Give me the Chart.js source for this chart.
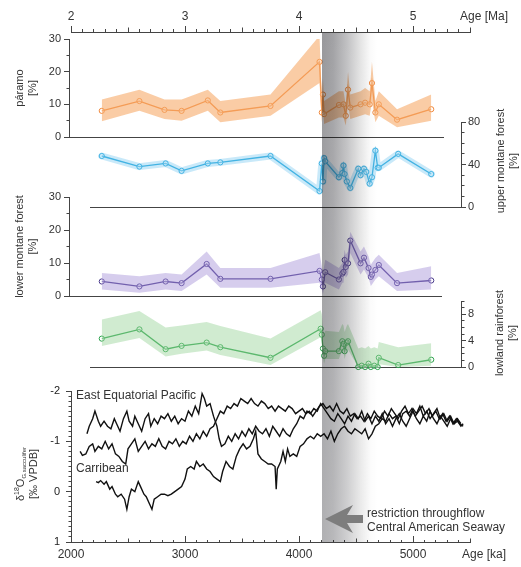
<!DOCTYPE html>
<html><head><meta charset="utf-8">
<script src="https://cdn.jsdelivr.net/npm/chart.js@4.4.1/dist/chart.umd.min.js"></script>
<style>
html,body{margin:0;padding:0;background:#fff;}
#wrap{position:relative;width:521px;height:567px;overflow:hidden;font-family:"Liberation Sans",Arial,sans-serif;color:#333;}
#wrap canvas{position:absolute;left:0;top:0;}
#cT{mix-blend-mode:multiply;}
.lbl{position:absolute;white-space:nowrap;font-size:12px;line-height:14px;color:#333;}
.rot{position:absolute;transform:translate(-50%,-50%) rotate(-90deg);text-align:center;white-space:nowrap;font-size:11px;line-height:13px;color:#333;}
.rot sup{font-size:7px;vertical-align:5px;line-height:0;}
.rot sub{font-size:6px;vertical-align:-2px;line-height:0;}
svg{position:absolute;left:0;top:0;}
</style></head>
<body><div id="wrap">
<canvas id="cLR" width="521" height="567"></canvas>
<canvas id="cLM" width="521" height="567"></canvas>
<canvas id="cUM" width="521" height="567"></canvas>
<canvas id="cP" width="521" height="567"></canvas>
<canvas id="cD" width="521" height="567"></canvas>
<canvas id="cT" width="521" height="567"></canvas>
<svg width="521" height="567"><polygon points="325,519 353,505 347,515 363,515 363,523 347,523 353,533" fill="#7d7d7d"/></svg>
<div class="lbl" style="left:460px;top:9px">Age [Ma]</div>
<div class="lbl" style="left:462px;top:547px">Age [ka]</div>
<div class="lbl" style="left:76px;top:388px">East Equatorial Pacific</div>
<div class="lbl" style="left:76px;top:461px">Carribean</div>
<div class="lbl" style="left:367px;top:506px">restriction throughflow<br>Central American Seaway</div>
<div class="rot" style="left:507px;top:161px">upper montane forest<br>[%]</div>
<div class="rot" style="left:506px;top:333px">lowland rainforest<br>[%]</div>
<div class="rot" style="left:27px;top:474px">δ<sup>18</sup>O<sub>G.sacculifer</sub><br>[‰ VPDB]</div>
</div>
<script>
// ---------------- DATA ----------------
// páramo [%] vs age [Ma]
const paramoAge = [2.27, 2.60, 2.82, 2.97, 3.20, 3.31, 3.75, 4.18, 4.20, 4.21, 4.22, 4.35, 4.39, 4.41, 4.43, 4.45, 4.54, 4.58, 4.62, 4.64, 4.67, 4.70, 4.86, 5.16];
const paramo    = [8.0, 11.0, 8.3, 8.0, 11.2, 7.5, 9.5, 23.0, 7.5, 13.0, 7.0, 9.8, 10.0, 6.5, 14.5, 9.0, 10.0, 10.5, 10.0, 16.5, 7.5, 10.0, 5.3, 8.5];
const paramoHi  = [11.5, 14.5, 11.5, 11.5, 14.5, 11, 13, 31, 12, 18, 11, 14, 14, 10, 20, 13, 14, 15, 14, 23, 11, 14, 8.5, 13];
const paramoLo  = [4.8, 8, 5.5, 5, 8, 4.5, 6.5, 16.5, 4.5, 9, 4, 6, 6, 3.5, 10, 5.5, 6.5, 7, 6.5, 11, 4.5, 6.5, 3, 5];

// upper montane forest [%]
const upperAge = [2.27, 2.60, 2.83, 2.97, 3.20, 3.31, 3.75, 4.18, 4.20, 4.21, 4.22, 4.23, 4.35, 4.38, 4.39, 4.40, 4.42, 4.45, 4.52, 4.54, 4.57, 4.59, 4.62, 4.64, 4.67, 4.69, 4.70, 4.87, 5.16];
const upper    = [48, 38, 41, 34, 41, 42, 48, 15, 41, 24, 46, 43, 28, 32, 39, 31, 24, 18, 36, 30, 36, 33, 22, 28, 53, 37, 37, 50, 31];

// lower montane forest [%]
const lowerAge = [2.27, 2.60, 2.83, 2.97, 3.19, 3.31, 3.75, 4.18, 4.20, 4.21, 4.23, 4.35, 4.38, 4.39, 4.40, 4.41, 4.43, 4.45, 4.54, 4.57, 4.61, 4.63, 4.64, 4.67, 4.70, 4.86, 5.16];
const lower    = [4.4, 2.9, 4.4, 3.9, 9.7, 5.2, 5.2, 7.6, 5.0, 2.9, 7.2, 5.0, 6.8, 7.3, 10.9, 8.8, 9.9, 16.8, 9.9, 11.6, 8.5, 5.8, 6.5, 7.9, 9.4, 3.9, 4.7];
const lowerHi  = [7, 6, 7, 6.5, 13.5, 8.5, 8.5, 13, 9, 7, 11, 8.5, 10, 11, 14, 12.5, 13.5, 19.5, 13.5, 15, 12, 9.5, 10, 11.5, 12.5, 7, 9];
const lowerLo  = [2, 1, 2, 1.5, 6.5, 2.5, 2.5, 4, 2, 0.5, 4, 2, 4, 4, 7.5, 5.5, 6.5, 13, 6.5, 8, 5.5, 3, 3.5, 5, 6, 1.5, 2];

// lowland rainforest [%]
const lowlandAge = [2.27, 2.60, 2.83, 2.97, 3.19, 3.31, 3.75, 4.19, 4.20, 4.21, 4.22, 4.23, 4.35, 4.38, 4.39, 4.40, 4.42, 4.43, 4.52, 4.55, 4.58, 4.61, 4.63, 4.66, 4.69, 4.70, 4.87, 5.16];
const lowland    = [4.3, 5.7, 2.7, 3.2, 3.7, 3.0, 1.4, 5.8, 4.9, 2.8, 1.7, 2.4, 2.4, 3.9, 3.5, 2.4, 3.7, 3.9, 0, 0.2, 0, 0.5, 0, 0.2, 0, 1.4, 0.3, 1.1];
const lowlandHi  = [7.2, 8.5, 6, 6.3, 6.8, 6.2, 4.3, 8.6, 8, 6, 5, 5.5, 5.3, 6.5, 6.3, 5.3, 6.3, 6.5, 2.8, 3, 2.8, 3.2, 2.8, 3, 2.8, 3.8, 3, 3.6];
const lowlandLo  = [3.2, 4.4, 1.6, 2, 2.5, 1.8, 0.3, 4.5, 3.5, 1.5, 0.5, 1.2, 1.2, 2.6, 2.2, 1.2, 2.5, 2.6, 0, 0, 0, 0, 0, 0, 0, 0.4, 0, 0.2];

// δ18O G. sacculifer [‰ VPDB] vs age [ka]
const eepAAge = [2140,2160,2190,2210,2240,2260,2290,2320,2350,2380,2400,2430,2460,2490,2510,2540,2560,2590,2620,2650,2680,2700,2730,2760,2790,2820,2850,2880,2910,2940,2970,3000,3030,3060,3090,3120,3150,3170,3190,3220,3250,3280,3300,3320,3350,3380,3410,3440,3470,3500,3530,3560,3590,3620,3650,3680,3710,3740,3770,3800,3830,3860,3890,3920,3950,3980,4010,4040,4070,4100,4130,4160,4190,4220,4250,4280,4310,4340,4370,4400,4430,4460,4490,4520,4550,4580,4610,4640,4670,4700,4730,4760,4790,4820,4850,4880,4910,4940,4970,5000,5030,5060,5090,5120,5150,5180,5210,5240,5270,5300,5330,5360,5390,5420,5440];
const eepA    = [-1.15,-1.3,-1.45,-1.6,-1.4,-1.3,-1.4,-1.3,-1.25,-1.45,-1.35,-1.2,-1.45,-1.6,-1.4,-1.3,-1.5,-1.35,-1.2,-1.45,-1.55,-1.3,-1.45,-1.35,-1.5,-1.45,-1.55,-1.4,-1.5,-1.35,-1.45,-1.4,-1.6,-1.5,-1.7,-1.55,-1.95,-1.85,-1.7,-1.75,-1.5,-1.3,-1.05,-0.9,-0.95,-1.1,-1.0,-1.15,-1.05,-1.2,-1.1,-1.25,-1.15,-1.3,-1.2,-1.15,-1.25,-1.1,-1.3,-1.2,-1.1,-1.25,-1.15,-1.1,-1.25,-1.35,-1.5,-1.45,-1.6,-1.55,-1.65,-1.6,-1.75,-1.65,-1.55,-1.45,-1.4,-1.55,-1.45,-1.35,-1.5,-1.4,-1.55,-1.45,-1.6,-1.4,-1.5,-1.35,-1.5,-1.4,-1.55,-1.35,-1.45,-1.3,-1.45,-1.55,-1.4,-1.3,-1.45,-1.6,-1.45,-1.35,-1.5,-1.4,-1.6,-1.45,-1.35,-1.5,-1.4,-1.3,-1.45,-1.35,-1.4,-1.3,-1.35];
const eepBAge = [2080,2100,2130,2160,2190,2210,2240,2270,2300,2330,2360,2390,2420,2450,2480,2500,2530,2560,2590,2620,2650,2680,2710,2740,2770,2800,2830,2860,2890,2920,2950,2980,3010,3040,3070,3100,3130,3160,3190,3220,3250,3280,3310,3340,3370,3400,3430,3460,3490,3520,3550,3580,3610,3640,3670,3700,3730,3760,3790,3820,3850,3880,3910,3940,3970,4000,4030,4060,4090,4120,4150,4180,4210,4240,4270,4300,4330,4360,4390,4420,4450,4480,4510,4540,4570,4600,4630,4660,4690,4720,4750,4780,4810,4840,4870,4900,4930,4960,4990,5020,5050,5080,5110,5140,5170,5200,5230,5260,5290,5320,5350,5380,5410,5440];
const eepB    = [-0.8,-0.72,-0.75,-0.9,-0.95,-0.8,-0.9,-0.85,-1.0,-0.85,-0.95,-0.75,-0.7,-0.6,-0.55,-0.85,-0.95,-1.05,-0.8,-0.9,-1.0,-0.85,-0.95,-0.9,-1.05,-0.9,-0.85,-1.0,-0.95,-1.05,-0.9,-1.0,-0.95,-1.1,-1.0,-1.15,-1.05,-1.2,-1.1,-1.25,-1.3,-1.45,-1.6,-1.55,-1.7,-1.65,-1.75,-1.7,-1.85,-1.8,-1.75,-1.85,-1.75,-1.7,-1.8,-1.75,-1.65,-1.7,-1.6,-1.7,-1.65,-1.6,-1.7,-1.65,-1.55,-1.6,-1.65,-1.55,-1.6,-1.5,-1.6,-1.7,-1.75,-1.65,-1.7,-1.6,-1.75,-1.6,-1.55,-1.65,-1.5,-1.55,-1.45,-1.5,-1.4,-1.55,-1.45,-1.6,-1.5,-1.45,-1.6,-1.5,-1.65,-1.55,-1.45,-1.6,-1.7,-1.55,-1.65,-1.5,-1.6,-1.7,-1.55,-1.65,-1.5,-1.6,-1.45,-1.55,-1.4,-1.5,-1.35,-1.45,-1.35,-1.3];
const carAge = [2220,2240,2260,2290,2310,2340,2360,2390,2410,2440,2470,2490,2510,2530,2560,2590,2610,2640,2660,2690,2710,2730,2760,2790,2820,2850,2880,2910,2940,2970,3000,3020,3050,3080,3100,3130,3160,3190,3220,3250,3280,3310,3330,3360,3390,3420,3450,3480,3510,3540,3570,3600,3620,3640,3670,3700,3730,3760,3790,3800,3810,3840,3860,3880,3900,3920,3950,3980,4010,4040,4070,4100,4130,4160,4190,4220,4250,4280,4310,4340,4370,4400,4430,4460,4490,4520,4550,4580,4610,4640,4670,4700,4730,4760,4790,4820,4850,4880,4910,4940,4970,5000,5030,5060,5090,5120,5150,5180,5210,5240,5270,5300,5330,5360,5390,5420];
const car    = [-0.2,-0.18,-0.22,-0.15,-0.2,-0.05,-0.1,0.05,0.1,0.05,0.15,0.35,0.1,-0.05,0.0,-0.2,-0.1,0.05,0.1,0.25,0.35,0.15,0.1,0.05,0.05,0.08,0.05,0.0,-0.05,-0.1,-0.25,-0.45,-0.5,-0.45,-0.6,-0.5,-0.55,-0.45,-0.4,-0.3,-0.25,-0.2,-0.4,-0.6,-0.5,-0.45,-0.7,-0.85,-0.95,-0.85,-0.9,-1.05,-1.2,-0.75,-0.65,-0.6,-0.55,-0.55,-0.5,-0.05,-0.45,-0.6,-0.8,-0.6,-0.85,-0.7,-0.75,-0.7,-0.9,-0.95,-1.05,-1.1,-1.05,-1.15,-1.1,-1.15,-1.05,-1.2,-1.0,-1.15,-1.25,-1.3,-1.2,-1.15,-1.25,-1.2,-1.15,-1.25,-1.05,-1.15,-1.3,-1.35,-1.45,-1.4,-1.55,-1.45,-1.5,-1.35,-1.55,-1.6,-1.5,-1.65,-1.55,-1.7,-1.5,-1.6,-1.45,-1.55,-1.65,-1.45,-1.55,-1.4,-1.5,-1.35,-1.45,-1.35];

// grey interval (restriction of CAS throughflow), Ma
const bandStartMa = 4.2, bandEndMa = 4.68;

// ---------------- LAYOUT / STYLE ----------------
const W = 521, H = 567;
const PX_2MA = 71, PX_PER_MA = 114;
const maAt = px => 2 + (px - PX_2MA) / PX_PER_MA;
const FONT = '"Liberation Sans", Arial, sans-serif';
const TXT = '#333', AX = '#444';
Chart.defaults.font.family = FONT;
Chart.defaults.color = TXT;

const zip = (a, b) => a.map((x, i) => ({x, y: b[i]}));
const steps = (min, max, step) => { const out = []; const n = Math.round((max - min) / step); for (let i = 0; i <= n; i++) out.push({value: Math.round((min + i * step) * 1000) / 1000}); return out; };
const isMult = (v, m) => Math.abs(v / m - Math.round(v / m)) < 1e-6;
// dash so that minor ticks are drawn short, adjacent to the axis line
const tickDash = (fromBorder, tl, len) => fromBorder ? [len, 100] : [0, tl - len, len, 100];

function panel(id, o) {
  const left = o.side === 'left';
  const ds = [];
  if (o.hi) {
    ds.push({data: zip(o.age, o.hi), borderWidth: 0, pointRadius: 0, fill: false, clip: false});
    ds.push({data: zip(o.age, o.lo), borderWidth: 0, pointRadius: 0, fill: '-1', backgroundColor: o.band, clip: false});
  }
  if (o.halo) ds.push({data: zip(o.age, o.val), borderColor: o.halo, borderWidth: 7, pointRadius: 0, fill: false, clip: false, borderJoinStyle: 'round', borderCapStyle: 'round'});
  ds.push({data: zip(o.age, o.val), borderColor: o.color, borderWidth: 1.3, pointRadius: 2.6, pointBorderWidth: 1,
    pointBackgroundColor: 'rgba(255,255,255,0.35)', pointBorderColor: o.color, fill: false, clip: false});
  const tl = 5;
  return new Chart(document.getElementById(id), {
    type: 'line',
    data: {datasets: ds},
    options: {
      responsive: false, animation: false, devicePixelRatio: 1,
      layout: {padding: {left: left ? 0 : o.left, right: left ? W - o.right : 0, top: o.top, bottom: H - o.bottom}},
      plugins: {legend: {display: false}, tooltip: {enabled: false}},
      scales: {
        x: {type: 'linear', min: maAt(o.left), max: maAt(o.right), ticks: {display: false},
            grid: {display: false, drawTicks: false}, border: {display: true, color: AX, width: 1},
            afterFit: s => { s.height = 0; }},
        y: {position: o.side, min: o.min, max: o.max,
            afterBuildTicks: s => { s.ticks = steps(o.min, o.max, o.minor); },
            ticks: {autoSkip: false, padding: left ? 3 : 2, font: {size: 11}, color: TXT,
                    callback: v => isMult(v, o.major) ? String(v) : ''},
            grid: {drawOnChartArea: false, tickLength: tl, color: AX, tickColor: AX,
                   tickBorderDash: c => isMult(c.tick.value, o.major) ? [] : tickDash(!left, tl, 2.5)},
            border: {color: AX, width: 1},
            title: o.title ? {display: true, text: o.title, font: {size: 11}, color: TXT, padding: {top: 13.5, bottom: 0}} : {display: false},
            afterFit: s => { s.width = left ? o.left : W - o.right; }}
      }
    }
  });
}

panel('cP', {side: 'left', left: 69, right: 443, top: 39, bottom: 137, min: 0, max: 30, minor: 5, major: 10,
  age: paramoAge, val: paramo, hi: paramoHi, lo: paramoLo, color: '#f0873a', band: 'rgba(247,170,105,0.6)', title: ['páramo', '[%]']});
panel('cUM', {side: 'right', left: 90, right: 461, top: 122, bottom: 207, min: 0, max: 80, minor: 10, major: 40,
  age: upperAge, val: upper, halo: 'rgba(120,200,240,0.4)', color: '#20a5da'});
panel('cLM', {side: 'left', left: 69, right: 441, top: 197, bottom: 296, min: 0, max: 30, minor: 5, major: 10,
  age: lowerAge, val: lower, hi: lowerHi, lo: lowerLo, color: '#4a3a8c', band: 'rgba(165,145,215,0.45)', title: ['lower montane forest', '[%]']});
panel('cLR', {side: 'right', left: 90, right: 461, top: 301, bottom: 367, min: 0, max: 10, minor: 1, major: 4,
  age: lowlandAge, val: lowland, hi: lowlandHi, lo: lowlandLo, color: '#2ca24c', band: 'rgba(150,210,150,0.45)'});

// δ18O panel with bottom age axis [ka]
const dLine = (a, v) => ({data: zip(a, v), borderColor: '#111', borderWidth: 1.4, pointRadius: 0, fill: false, tension: 0});
new Chart(document.getElementById('cD'), {
  type: 'line',
  data: {datasets: [dLine(eepAAge, eepA), dLine(eepBAge, eepB), dLine(carAge, car)]},
  options: {
    responsive: false, animation: false, devicePixelRatio: 1,
    layout: {padding: {left: 0, right: W - 470, top: 391, bottom: 0}},
    plugins: {legend: {display: false}, tooltip: {enabled: false}},
    scales: {
      x: {type: 'linear', position: 'bottom', min: 2000, max: 5500,
          afterBuildTicks: s => { s.ticks = steps(2000, 5500, 100); },
          ticks: {autoSkip: false, maxRotation: 0, padding: 11, font: {size: 12}, color: TXT,
                  callback: v => isMult(v, 1000) ? String(v) : ''},
          grid: {drawOnChartArea: false, tickLength: -6, color: AX, tickColor: AX,
                 tickBorderDash: c => isMult(c.tick.value, 1000) ? [] : (isMult(c.tick.value, 500) ? [4.5, 100] : [3, 100])},
          border: {color: AX, width: 1},
          afterFit: s => { s.height = 25; }},
      y: {position: 'left', min: -2, max: 1, reverse: true,
          afterBuildTicks: s => { s.ticks = steps(-2, 1, 0.1); },
          ticks: {autoSkip: false, padding: 6, font: {size: 11}, color: '#222',
                  callback: v => isMult(v, 1) ? String(Math.round(v)) : ''},
          grid: {drawOnChartArea: false, tickLength: 5, color: AX, tickColor: AX,
                 tickBorderDash: c => isMult(c.tick.value, 1) ? [] : tickDash(false, 5, 2.5)},
          border: {color: AX, width: 1},
          afterFit: s => { s.width = 71; }}
    }
  }
});

// top age axis [Ma] + grey interval
const bandPlugin = {
  id: 'band',
  beforeDatasetsDraw(chart) {
    const {ctx, chartArea: a, scales: {x}} = chart;
    const x0 = Math.round(x.getPixelForValue(bandStartMa)), x1 = Math.round(x.getPixelForValue(bandEndMa));
    const y0 = Math.round(a.top) + 1, y1 = Math.round(a.bottom);
    ctx.save();
    const g = ctx.createLinearGradient(x0, 0, x1, 0);
    g.addColorStop(0, 'rgb(152,152,155)');
    g.addColorStop(0.2, 'rgb(162,162,165)');
    g.addColorStop(0.45, 'rgb(192,192,194)');
    g.addColorStop(0.7, 'rgb(228,228,228)');
    g.addColorStop(0.88, 'rgb(250,250,250)');
    g.addColorStop(1, 'rgb(255,255,255)');
    ctx.fillStyle = g;
    ctx.fillRect(x0, y0, x1 - x0, y1 - y0);
    ctx.beginPath(); ctx.rect(x0, y0, x1 - x0, y1 - y0); ctx.clip();
    ctx.globalCompositeOperation = 'screen';
    const v = ctx.createLinearGradient(0, y0, 0, y1);
    v.addColorStop(0, 'rgb(0,0,0)');
    v.addColorStop(1, 'rgb(60,60,60)');
    ctx.fillStyle = v;
    ctx.fillRect(x0, y0, x1 - x0, y1 - y0);
    ctx.restore();
  }
};
new Chart(document.getElementById('cT'), {
  type: 'line',
  data: {datasets: []},
  plugins: [bandPlugin],
  options: {
    responsive: false, animation: false, devicePixelRatio: 1,
    layout: {padding: {left: 71, right: W - 470, top: 0, bottom: 25}},
    plugins: {legend: {display: false}, tooltip: {enabled: false}},
    scales: {
      x: {type: 'linear', position: 'top', min: 2, max: 5.5,
          afterBuildTicks: s => { s.ticks = steps(2, 5.5, 0.1); },
          ticks: {autoSkip: false, maxRotation: 0, padding: 2.5, font: {size: 12}, color: TXT,
                  callback: v => isMult(v, 1) ? String(v) : ''},
          grid: {drawOnChartArea: false, tickLength: 6, color: AX, tickColor: AX,
                 tickBorderDash: c => isMult(c.tick.value, 1) ? [] : (isMult(c.tick.value, 0.5) ? tickDash(false, 6, 4.5) : tickDash(false, 6, 3))},
          border: {color: AX, width: 1},
          afterFit: s => { s.height = 32; }},
      y: {display: false, min: 0, max: 1}
    }
  }
});
</script>
</body></html>
